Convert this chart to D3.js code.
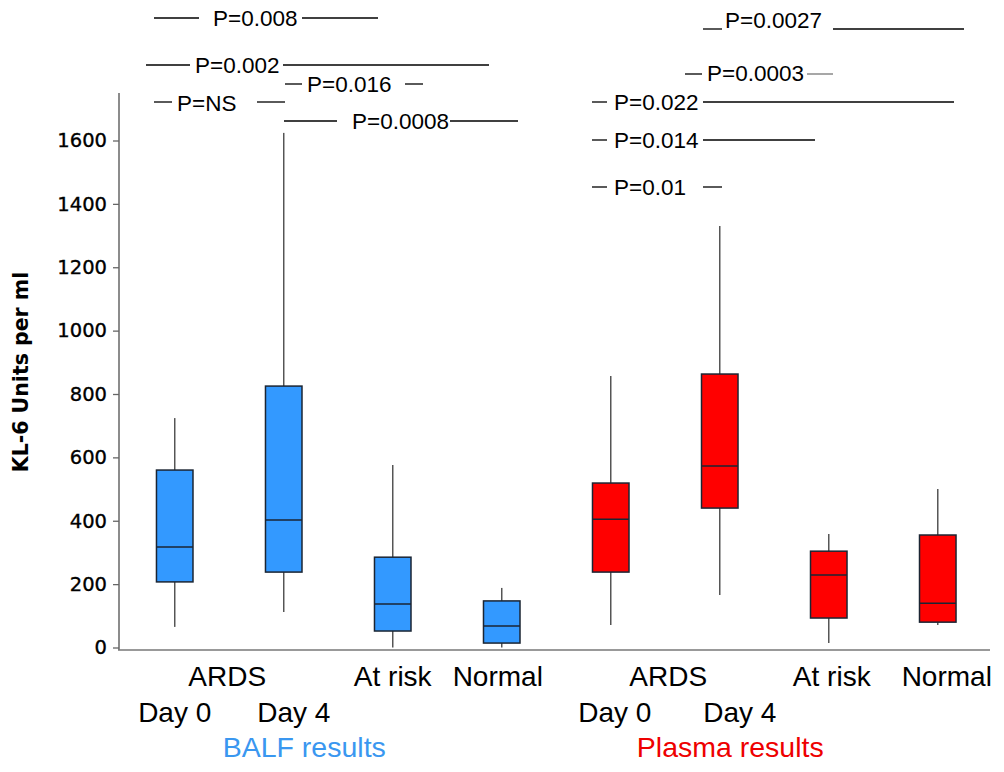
<!DOCTYPE html>
<html>
<head>
<meta charset="utf-8">
<script src="https://cdn.jsdelivr.net/npm/d3@7"></script>
<style>
  html, body { margin: 0; padding: 0; background: #fff; }
  svg { display: block; }
</style>
</head>
<body>
<svg id="chart" width="1004" height="772"></svg>
<script>
// ---- data ----
const groups = ["BALF ARDS Day 0", "BALF ARDS Day 4", "BALF At risk", "BALF Normal",
                "Plasma ARDS Day 0", "Plasma ARDS Day 4", "Plasma At risk", "Plasma Normal"];
const sample = ["BALF", "BALF", "BALF", "BALF", "Plasma", "Plasma", "Plasma", "Plasma"];
const whiskerLow  = [65, 112, 0, 0, 71, 166, 14, 71];
const q1          = [207, 238, 52, 14, 238, 440, 93, 80];
const median      = [317, 402, 137, 68, 405, 573, 229, 140];
const q3          = [560, 825, 285, 147, 519, 863, 304, 355];
const whiskerHigh = [724, 1624, 576, 188, 857, 1330, 358, 500];
const yTicks = [0, 200, 400, 600, 800, 1000, 1200, 1400, 1600];
const yLabel = "KL-6 Units per ml";

const catTexts = ["ARDS", "At risk", "Normal", "Day 0", "Day 4",
                  "ARDS", "At risk", "Normal", "Day 0", "Day 4"];
const sampleLabels = ["BALF results", "Plasma results"];
const pTexts = ["P=0.008", "P=0.002", "P=0.016", "P=NS", "P=0.0008",
                "P=0.0027", "P=0.0003", "P=0.022", "P=0.014", "P=0.01"];

// ---- layout ----
const svg = d3.select("#chart");
const x = d3.scaleBand().domain(groups).range([120.5, 992]).paddingInner(0.665).paddingOuter(0.33);
const y = d3.scaleLinear().domain([0, 1600]).range([647.5, 140.5]);
const colors = {BALF: "#3399ff", Plasma: "#ff0000"};
const labelColors = ["#3a97f0", "#ee0000"];

// axes
const yAxis = d3.axisLeft(y).tickValues(yTicks).tickSize(6).tickPadding(4).tickFormat(d3.format("d"));
const gy = svg.append("g").attr("transform", "translate(119,0)").call(yAxis);
gy.select(".domain").remove();
gy.selectAll(".tick line").attr("stroke", "#666").attr("stroke-width", 1.3);
gy.selectAll(".tick text").attr("font-family", "DejaVu Sans, Verdana, sans-serif")
  .attr("font-size", 19.5).attr("fill", "#000").attr("stroke", "#000").attr("stroke-width", 0.35)
  .attr("dx", -2);
svg.append("line").attr("x1", 119).attr("x2", 119).attr("y1", 93).attr("y2", 650)
  .attr("stroke", "#666").attr("stroke-width", 1.5);
svg.append("line").attr("x1", 118).attr("x2", 990).attr("y1", 650).attr("y2", 650)
  .attr("stroke", "#777").attr("stroke-width", 1.5);

svg.append("text").attr("transform", "translate(28,372) rotate(-90)")
  .attr("text-anchor", "middle").attr("font-family", "DejaVu Sans, Verdana, sans-serif")
  .attr("font-weight", "bold").attr("font-size", 20.5).attr("fill", "#000").text(yLabel);

// boxes
const bw = x.bandwidth();
const bx = svg.append("g");
groups.forEach((g, i) => {
  const cx = x(g) + bw / 2;
  bx.append("line").attr("x1", cx).attr("x2", cx).attr("y1", y(whiskerHigh[i])).attr("y2", y(q3[i]))
    .attr("stroke", "#555").attr("stroke-width", 1.5);
  bx.append("line").attr("x1", cx).attr("x2", cx).attr("y1", y(q1[i])).attr("y2", y(whiskerLow[i]))
    .attr("stroke", "#555").attr("stroke-width", 1.5);
  bx.append("rect").attr("x", x(g)).attr("width", bw).attr("y", y(q3[i]))
    .attr("height", y(q1[i]) - y(q3[i])).attr("fill", colors[sample[i]])
    .attr("stroke", "#1b2533").attr("stroke-width", 1.5);
  bx.append("line").attr("x1", x(g)).attr("x2", x(g) + bw).attr("y1", y(median[i])).attr("y2", y(median[i]))
    .attr("stroke", "#1b2533").attr("stroke-width", 1.5);
});

// category labels: anchor groups (from,to), row, pixel nudge
const catLayout = [
  {from: 0, to: 1, row: 0, dx: -2}, {from: 2, to: 2, row: 0, dx: 0}, {from: 3, to: 3, row: 0, dx: -4},
  {from: 0, to: 0, row: 1, dx: 0}, {from: 1, to: 1, row: 1, dx: 10},
  {from: 4, to: 5, row: 0, dx: 3}, {from: 6, to: 6, row: 0, dx: 3}, {from: 7, to: 7, row: 0, dx: 9},
  {from: 4, to: 4, row: 1, dx: 4}, {from: 5, to: 5, row: 1, dx: 20}
];
const rowY = [686, 722];
catTexts.forEach((t, k) => {
  const l = catLayout[k];
  const cx = (x(groups[l.from]) + x(groups[l.to]) + bw) / 2;
  svg.append("text").attr("x", cx + l.dx).attr("y", rowY[l.row]).attr("text-anchor", "middle")
    .attr("font-family", "Liberation Sans, Arial, sans-serif").attr("font-size", 28)
    .attr("fill", "#000").text(t);
});
const sampleDx = [75, 65];
sampleLabels.forEach((t, k) => {
  const a = x(groups[k * 4]) + bw / 2, b = x(groups[k * 4 + 1]) + bw / 2;
  svg.append("text").attr("x", (a + b) / 2 + sampleDx[k]).attr("y", 757).attr("text-anchor", "middle")
    .attr("font-family", "Liberation Sans, Arial, sans-serif").attr("font-size", 28.5)
    .attr("fill", labelColors[k]).text(t);
});

// p-value annotations
const pLayout = [
  {tx: 213, ty: 26, l: [154, 199, 18], r: [302, 378, 18]},
  {tx: 195, ty: 73, l: [146, 190, 65], r: [283, 489, 65]},
  {tx: 307, ty: 92, l: [285, 302, 84], r: [405, 423, 84]},
  {tx: 177, ty: 111, l: [154, 172, 102], r: [257, 285, 102]},
  {tx: 352, ty: 129, l: [284, 337, 121], r: [450, 518, 121]},
  {tx: 725, ty: 28, l: [703, 722, 29], r: [833, 964, 29]},
  {tx: 707, ty: 81, l: [685, 702, 74], r: [807, 833, 74]},
  {tx: 614, ty: 110, l: [592, 607, 102], r: [703, 954, 102]},
  {tx: 614, ty: 148, l: [592, 607, 140], r: [703, 815, 140]},
  {tx: 614, ty: 195, l: [592, 607, 187], r: [703, 722, 187]}
];
pTexts.forEach((t, i) => {
  const p = pLayout[i];
  svg.append("text").attr("x", p.tx).attr("y", p.ty).attr("font-family", "Liberation Sans, Arial, sans-serif")
    .attr("font-size", 22.5).attr("fill", "#000").text(t);
  [p.l, p.r].forEach((s, j) => {
    svg.append("line").attr("x1", s[0]).attr("x2", s[1]).attr("y1", s[2]).attr("y2", s[2])
      .attr("stroke", (i === 6 && j === 1) ? "#777" : "#000").attr("stroke-width", 1.3);
  });
});
</script>
</body>
</html>
